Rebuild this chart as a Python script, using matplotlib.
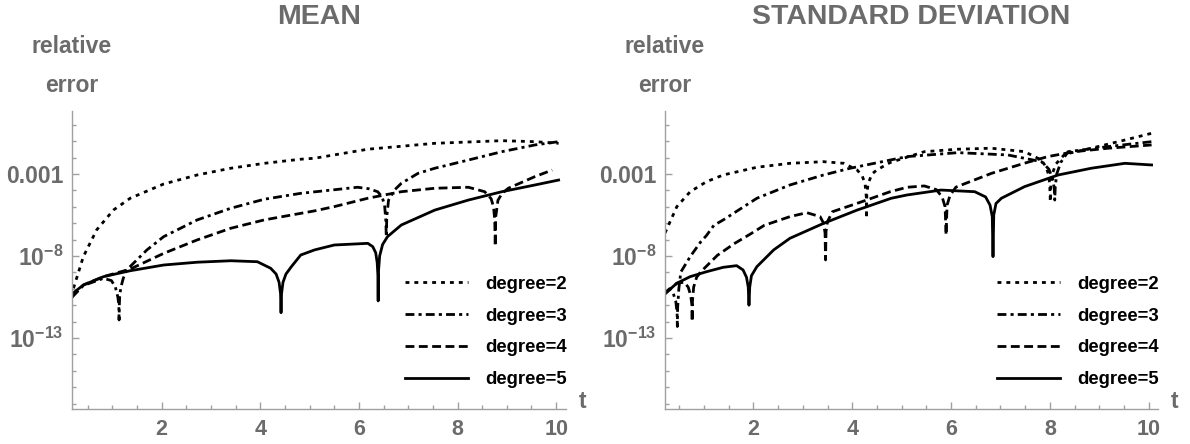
import numpy as np
import matplotlib
matplotlib.use("Agg")
import matplotlib.pyplot as plt
from matplotlib.ticker import FixedLocator, FixedFormatter

plt.rcParams['font.family'] = ['Liberation Sans', 'DejaVu Sans']
plt.rcParams['font.weight'] = 'bold'
plt.rcParams['mathtext.default'] = 'regular'

GRAY = '#6b6b6b'
AXCOL = '#a0a0a0'

# ---- data: t and log10(relative error) ----
# MEAN
mean_t2 = [0.18, 0.2, 0.41, 0.68, 1.02, 1.36, 2.04, 2.72, 3.4, 4.08, 4.82, 5.1, 6.18, 7.54, 8.9, 9.57, 10.05]
mean_e2 = [-10.5, -10.07, -8.04, -6.41, -5.2, -4.48, -3.61, -3.06, -2.65, -2.35, -2.1, -2.04, -1.49, -1.13, -0.97, -1.03, -1.13]

mean_t3 = [0.18, 0.41, 0.82, 0.98, 1.06, 1.11, 1.13, 1.135, 1.14, 1.15, 1.19, 1.22, 1.29, 1.7, 2.04, 2.72, 3.4, 4.08,
           4.82, 5.97, 6.2, 6.38, 6.47, 6.52, 6.545, 6.555, 6.565, 6.6, 6.72, 6.86, 7.2, 7.54, 8.22, 8.9, 9.57, 10.05]
mean_e3 = [-10.5, -9.8, -9.36, -9.5, -9.9, -10.5, -11.0, -11.9, -11.0, -10.3, -9.7, -9.36, -8.85, -7.63, -6.82, -5.8, -5.09, -4.54,
           -4.18, -3.81, -3.9, -4.08, -4.4, -4.9, -5.8, -6.84, -5.6, -4.6, -3.98, -3.57, -2.96, -2.65, -2.15, -1.64, -1.23, -1.03]

mean_t4 = [0.18, 0.41, 0.82, 1.36, 2.04, 2.72, 3.4, 4.08, 4.82, 5.1, 5.5, 6.18, 6.86, 7.54, 8.22, 8.55,
           8.68, 8.73, 8.755, 8.765, 8.775, 8.82, 8.9, 9.03, 9.57, 9.92]
mean_e4 = [-10.5, -9.77, -9.26, -8.8, -7.84, -7.02, -6.31, -5.8, -5.4, -5.25, -4.99, -4.48, -4.08, -3.87, -3.81, -4.08,
           -4.5, -5.0, -5.8, -7.4, -5.6, -4.6, -4.2, -3.87, -3.16, -2.76]

mean_t5 = [0.18, 0.2, 0.41, 0.82, 1.36, 2.04, 2.72, 3.4, 3.94, 4.21, 4.32, 4.38, 4.41, 4.42, 4.43, 4.46, 4.52, 4.63, 4.82,
           5.1, 5.5, 6.18, 6.28, 6.34, 6.37, 6.385, 6.39, 6.395, 6.42, 6.48, 6.58, 6.86, 7.54, 8.22, 8.9, 9.57, 10.05]
mean_e5 = [-10.5, -10.27, -9.77, -9.26, -8.9, -8.55, -8.38, -8.29, -8.35, -8.75, -9.1, -9.6, -10.3, -11.46, -10.3, -9.6, -9.1, -8.65, -7.94,
           -7.63, -7.33, -7.23, -7.43, -7.8, -8.4, -9.2, -10.74, -9.0, -8.0, -7.3, -6.82, -6.11, -5.2, -4.59, -4.08, -3.67, -3.37]

# STANDARD DEVIATION
sd_t2 = [0.21, 0.45, 0.72, 1.05, 1.39, 2.07, 2.74, 3.42, 3.83, 4.1, 4.2, 4.26, 4.285, 4.29, 4.295, 4.32, 4.4, 4.5, 4.77,
         5.46, 6.14, 6.82, 7.49, 7.83, 7.93, 7.98, 8.0, 8.01, 8.02, 8.05, 8.12, 8.3, 8.84, 9.52, 10.06]
sd_e2 = [-6.6, -4.99, -4.08, -3.47, -3.06, -2.59, -2.35, -2.25, -2.35, -2.76, -3.1, -3.6, -4.4, -5.7, -4.3, -3.6, -3.0, -2.75, -2.3,
         -1.64, -1.49, -1.43, -1.64, -2.15, -2.6, -3.1, -3.8, -4.69, -3.7, -3.0, -2.4, -1.8, -1.43, -0.93, -0.52]

sd_t3 = [0.21, 0.3, 0.38, 0.43, 0.455, 0.46, 0.465, 0.49, 0.53, 0.72, 0.93, 1.05, 1.2, 1.39, 2.07, 2.74, 3.42, 3.96, 4.77,
         5.11, 6.14, 7.15, 7.83, 7.98, 8.06, 8.09, 8.1, 8.11, 8.14, 8.22, 8.37, 9.18, 10.06]
sd_e3 = [-10.3, -10.0, -10.3, -10.8, -11.5, -12.3, -11.2, -10.0, -8.98, -8.04, -7.15, -6.75, -6.13, -5.8, -4.48, -3.67, -3.06, -2.65, -2.15,
         -1.94, -1.7, -1.84, -2.25, -2.7, -3.3, -3.9, -4.59, -3.8, -3.0, -2.3, -1.64, -1.33, -1.03]

sd_t4 = [0.21, 0.45, 0.6, 0.68, 0.73, 0.755, 0.76, 0.765, 0.79, 0.85, 0.93, 1.27, 1.61, 1.95, 2.22, 2.74, 3.08, 3.35, 3.42,
         3.45, 3.46, 3.47, 3.5, 3.6, 4.1, 4.77, 5.11, 5.46, 5.7, 5.82, 5.88, 5.9, 5.92, 5.98, 6.1, 6.82, 7.48, 7.96, 8.5, 9.18, 10.06]
sd_e4 = [-10.3, -9.66, -9.6, -9.9, -10.4, -11.0, -12.0, -10.8, -9.9, -9.3, -8.98, -7.96, -7.25, -6.64, -6.13, -5.6, -5.36, -5.6, -6.0,
         -6.6, -8.24, -6.5, -5.9, -5.3, -4.79, -4.08, -3.81, -3.73, -3.95, -4.4, -5.0, -6.72, -4.9, -4.3, -3.8, -2.96, -2.35, -1.94, -1.64, -1.43, -1.23]

sd_t5 = [0.21, 0.45, 0.72, 1.05, 1.39, 1.66, 1.79, 1.86, 1.895, 1.91, 1.925, 1.96, 2.07, 2.41, 2.74, 3.42, 4.1, 4.79, 5.11,
         5.8, 6.48, 6.7, 6.79, 6.835, 6.85, 6.865, 6.91, 7.02, 7.49, 8.17, 8.84, 9.52, 10.06]
sd_e5 = [-10.3, -9.66, -9.26, -8.96, -8.69, -8.59, -8.85, -9.3, -9.9, -11.0, -9.9, -9.2, -8.65, -7.63, -6.92, -6.01, -5.2, -4.48, -4.28,
         -3.98, -4.08, -4.4, -4.9, -5.6, -8.04, -5.5, -4.8, -4.48, -3.77, -3.06, -2.65, -2.35, -2.45]

labels = ['degree=2', 'degree=3', 'degree=4', 'degree=5']
styles = [(0, (1.4, 1.8)), (0, (3.2, 1.5, 1.1, 1.5)), (0, (3.2, 1.6)), '-']

panels = [
    ('MEAN', [(mean_t2, mean_e2), (mean_t3, mean_e3), (mean_t4, mean_e4), (mean_t5, mean_e5)], (0.18, 10.2)),
    ('STANDARD DEVIATION', [(sd_t2, sd_e2), (sd_t3, sd_e3), (sd_t4, sd_e4), (sd_t5, sd_e5)], (0.21, 10.19)),
]

W, H = 1190, 444
fig = plt.figure(figsize=(W / 100, H / 100), dpi=100)
boxes = [(72, 566), (665, 1158)]

for (title, series, xl), (x0, x1) in zip(panels, boxes):
    ax = fig.add_axes([x0 / W, 1 - 409 / H, (x1 - x0) / W, 298 / H])
    for (t, e), ls, lab in zip(series, styles, labels):
        ax.plot(t, 10.0 ** np.array(e), color='black', lw=2.0, linestyle=ls, label=lab)
    ax.set_yscale('log')
    ax.set_xlim(*xl)
    ax.set_ylim(10 ** -17.33, 10 ** 0.84)

    ax.yaxis.set_major_locator(FixedLocator([1e-3, 1e-8, 1e-13]))
    ax.yaxis.set_major_formatter(FixedFormatter(['0.001', r'$10^{-8}$', r'$10^{-13}$']))
    ax.yaxis.set_minor_locator(FixedLocator([10.0 ** k for k in range(-17, 1)]))
    ax.yaxis.set_minor_formatter(FixedFormatter([]))
    ax.xaxis.set_major_locator(FixedLocator([2, 4, 6, 8, 10]))
    ax.xaxis.set_minor_locator(FixedLocator(np.arange(0.5, 10.01, 0.5)))

    for s in ['top', 'right']:
        ax.spines[s].set_visible(False)
    for s in ['left', 'bottom']:
        ax.spines[s].set_color(AXCOL)
        ax.spines[s].set_linewidth(1.0)
    ax.tick_params(which='both', direction='in', color=AXCOL, width=1.0)
    ax.tick_params(which='major', length=5)
    ax.tick_params(which='minor', length=3)
    ax.tick_params(axis='x', which='major', labelsize=15.5, labelcolor=GRAY, pad=7)
    ax.tick_params(axis='y', which='major', labelsize=16.5, labelcolor=GRAY, pad=6)
    for lbl in ax.get_xticklabels() + ax.get_yticklabels():
        lbl.set_fontweight('bold')

    ax.text(0.5, 1.315, title, transform=ax.transAxes, ha='center', va='center',
            fontsize=20.5, fontweight='bold', color=GRAY)
    ax.text(0.0, 1.215, 'relative', transform=ax.transAxes, ha='center', va='center',
            fontsize=16.5, fontweight='bold', color=GRAY)
    ax.text(0.0, 1.087, 'error', transform=ax.transAxes, ha='center', va='center',
            fontsize=16.5, fontweight='bold', color=GRAY)
    ax.text(1.033, 0.025, 't', transform=ax.transAxes, ha='center', va='center',
            fontsize=16.5, fontweight='bold', color=GRAY)

    leg = ax.legend(loc='upper left', bbox_to_anchor=(0.674, 0.447), frameon=False,
                    borderaxespad=0, borderpad=0, handlelength=3.4, handletextpad=0.95,
                    labelspacing=0.8, prop={'size': 13.3, 'weight': 'bold'})

fig.savefig('out.png', dpi=100)
